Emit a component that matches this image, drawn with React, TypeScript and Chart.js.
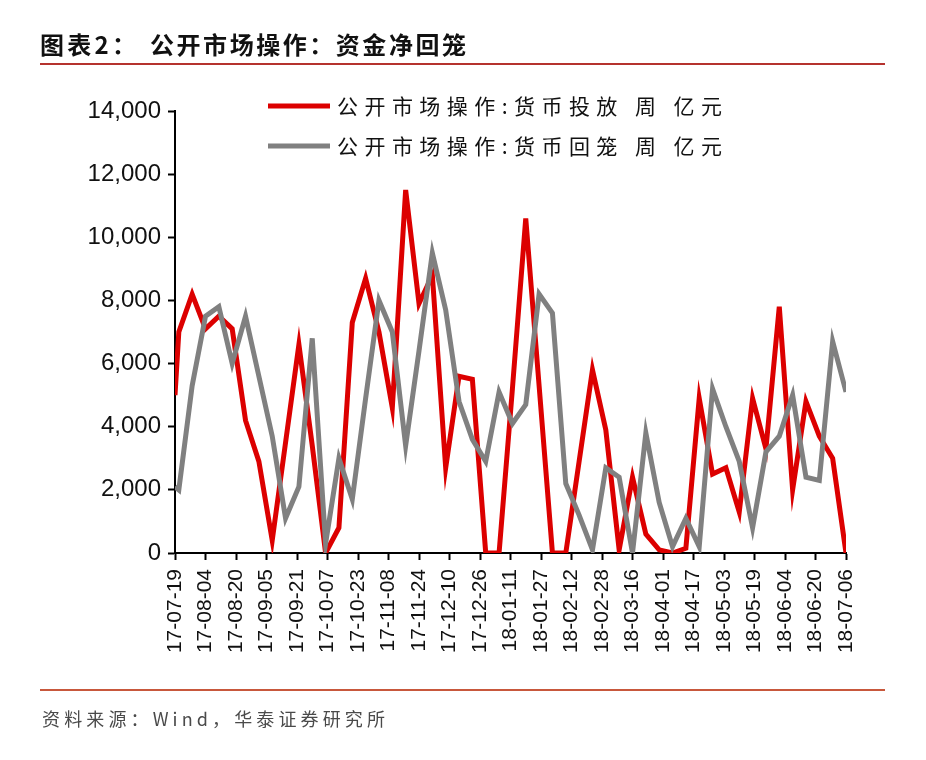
import React, { useEffect, useRef } from 'react';
import { Chart, registerables } from 'chart.js';

Chart.register(...registerables);

const titleLead = '图表2：';
const titleMain = '公开市场操作：资金净回笼';
const sourceText = '资料来源：Wind，华泰证券研究所';
const seriesNames = ['公开市场操作:货币投放 周 亿元', '公开市场操作:货币回笼 周 亿元'];

const dates = [
  '2017-07-19', '2017-07-21', '2017-07-28', '2017-08-04', '2017-08-11', '2017-08-18', '2017-08-25',
  '2017-09-01', '2017-09-08', '2017-09-15', '2017-09-22', '2017-09-29', '2017-10-06', '2017-10-13',
  '2017-10-20', '2017-10-27', '2017-11-03', '2017-11-10', '2017-11-17', '2017-11-24', '2017-12-01',
  '2017-12-08', '2017-12-15', '2017-12-22', '2017-12-29', '2018-01-05', '2018-01-12', '2018-01-19',
  '2018-01-26', '2018-02-02', '2018-02-09', '2018-02-16', '2018-02-23', '2018-03-02', '2018-03-09',
  '2018-03-16', '2018-03-23', '2018-03-30', '2018-04-06', '2018-04-13', '2018-04-20', '2018-04-27',
  '2018-05-04', '2018-05-11', '2018-05-18', '2018-05-25', '2018-06-01', '2018-06-08', '2018-06-15',
  '2018-06-22', '2018-06-29', '2018-07-06',
];

// 货币投放（亿元）
const injection = [
  5000, 7000, 8200, 7100, 7500, 7100, 4200,
  2900, 400, 3500, 6600, 3400, 0, 800,
  7300, 8700, 7000, 4600, 11500, 7900, 8800,
  2700, 5600, 5500, 0, 0, 5200, 10600,
  5300, 0, 0, 2900, 5800, 3900, 100,
  2400, 600, 100, 0, 150, 4900, 2500,
  2700, 1300, 4900, 3300, 7800, 2000, 4800,
  3700, 3000, 0,
];

// 货币回笼（亿元）
const withdrawal = [
  2100, 2000, 5300, 7500, 7800, 6000, 7500,
  5600, 3700, 1100, 2100, 6800, 300, 3000,
  1700, 4900, 8000, 7000, 3400, 6400, 9500,
  7700, 4800, 3600, 2900, 5100, 4100, 4700,
  8200, 7600, 2200, 1200, 100, 2700, 2400,
  0, 3800, 1600, 200, 1100, 200, 5200,
  4000, 2900, 800, 3200, 3700, 5000, 2400,
  2300, 6700, 5100,
];

const xTickLabels = [
  '17-07-19', '17-08-04', '17-08-20', '17-09-05', '17-09-21', '17-10-07', '17-10-23', '17-11-08',
  '17-11-24', '17-12-10', '17-12-26', '18-01-11', '18-01-27', '18-02-12', '18-02-28', '18-03-16',
  '18-04-01', '18-04-17', '18-05-03', '18-05-19', '18-06-04', '18-06-20', '18-07-06',
];
const xTickStepDays = 16;
const yMin = 0;
const yMax = 14000;
const yStep = 2000;

const seriesColors = ['#DC0000', '#808080'];

const DAY = 86400000;
const origin = Date.parse(dates[0]);
const toDay = (d: string) => Math.round((Date.parse(d) - origin) / DAY);

function drawFitted(ctx: CanvasRenderingContext2D, text: string, x: number, y: number, target: number) {
  const chars = Array.from(text);
  const widths = chars.map((c) => ctx.measureText(c).width);
  const total = widths.reduce((a, b) => a + b, 0);
  const extra = chars.length > 1 ? (target - total) / (chars.length - 1) : 0;
  let cx = x;
  chars.forEach((c, i) => {
    ctx.fillText(c, cx, y);
    cx += widths[i] + extra;
  });
}

const decorPlugin = {
  id: 'decor',
  afterDraw(chart: any) {
    const ctx: CanvasRenderingContext2D = chart.ctx;
    ctx.save();
    // Title
    ctx.fillStyle = '#111';
    ctx.textBaseline = 'middle';
    ctx.textAlign = 'left';
    ctx.font = 'bold 24px "Noto Sans CJK SC"';
    drawFitted(ctx, titleLead, 40, 45, 96);
    drawFitted(ctx, titleMain, 150, 45, 316);
    // Title rule
    ctx.strokeStyle = '#B5322E';
    ctx.lineWidth = 2;
    ctx.beginPath();
    ctx.moveTo(40, 64);
    ctx.lineTo(885, 64);
    ctx.stroke();
    // Footer rule
    ctx.strokeStyle = '#C8583C';
    ctx.beginPath();
    ctx.moveTo(40, 690);
    ctx.lineTo(885, 690);
    ctx.stroke();
    // Source
    ctx.fillStyle = '#4a4a4a';
    ctx.font = '18px "Noto Sans CJK SC"';
    drawFitted(ctx, sourceText, 42, 719, 343);
    // Legend
    seriesNames.forEach((name, i) => {
      const y = 106 + i * 40;
      ctx.strokeStyle = seriesColors[i];
      ctx.lineWidth = 5;
      ctx.beginPath();
      ctx.moveTo(268, y);
      ctx.lineTo(330, y);
      ctx.stroke();
      ctx.fillStyle = '#111';
      ctx.font = '21px "Noto Sans CJK SC"';
      drawFitted(ctx, name, 337, y, 385);
    });
    ctx.restore();
  },
};

export default function App() {
  const canvasRef = useRef<HTMLCanvasElement | null>(null);

  useEffect(() => {
    const canvas = canvasRef.current;
    if (!canvas) return;
    const xs = dates.map(toDay);
    const chart = new Chart(canvas, {
      type: 'line',
      data: {
        datasets: [
          {
            label: seriesNames[0],
            data: injection.map((v, i) => ({ x: xs[i], y: v })),
            borderColor: seriesColors[0],
            backgroundColor: seriesColors[0],
            borderWidth: 5,
            pointRadius: 0,
            tension: 0,
            order: 2,
          },
          {
            label: seriesNames[1],
            data: withdrawal.map((v, i) => ({ x: xs[i], y: v })),
            borderColor: seriesColors[1],
            backgroundColor: seriesColors[1],
            borderWidth: 5,
            pointRadius: 0,
            tension: 0,
            order: 1,
          },
        ],
      },
      options: {
        responsive: false,
        animation: false,
        devicePixelRatio: 1,
        layout: { padding: { left: 0, right: 80, top: 111, bottom: 80 } },
        plugins: {
          legend: { display: false },
          tooltip: { enabled: false },
          title: { display: false },
        },
        scales: {
          x: {
            type: 'linear',
            min: 0,
            max: xTickStepDays * (xTickLabels.length - 1),
            afterFit: (s: any) => {
              s.height = 127;
            },
            border: { display: true, color: '#000', width: 2 },
            grid: { display: true, drawOnChartArea: false, tickLength: 7, tickWidth: 2, tickColor: '#000' },
            ticks: {
              stepSize: xTickStepDays,
              autoSkip: false,
              minRotation: 90,
              maxRotation: 90,
              padding: 9,
              color: '#111',
              font: { family: '"Liberation Sans", Arial, sans-serif', size: 21 },
              callback: (_v: any, i: number) => xTickLabels[i] ?? '',
            },
          },
          y: {
            type: 'linear',
            min: yMin,
            max: yMax,
            afterFit: (s: any) => {
              s.width = 175;
            },
            border: { display: true, color: '#000', width: 2 },
            grid: { display: true, drawOnChartArea: false, tickLength: 7, tickWidth: 2, tickColor: '#000' },
            ticks: {
              stepSize: yStep,
              padding: 7,
              color: '#111',
              font: { family: '"Liberation Sans", Arial, sans-serif', size: 24 },
              callback: (v: any) => Number(v).toLocaleString('en-US'),
            },
          },
        },
      },
      plugins: [decorPlugin],
    });
    return () => chart.destroy();
  }, []);

  return (
    <div style={{ position: 'fixed', left: 0, top: 0, width: 926, height: 760, background: '#fff' }}>
      <canvas ref={canvasRef} width={926} height={760} style={{ width: 926, height: 760, display: 'block' }} />
    </div>
  );
}
